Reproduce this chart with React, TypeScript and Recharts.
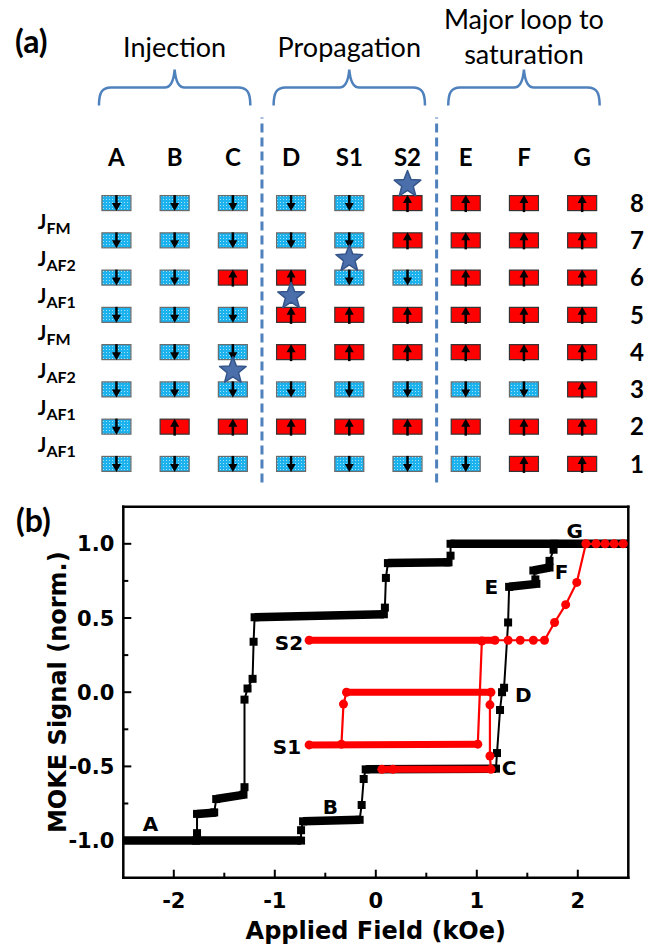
import React from 'react';
import { ScatterChart, Scatter, XAxis, YAxis, ReferenceLine } from 'recharts';

// ---------- (a) layer schematic ----------
const columns = ['A', 'B', 'C', 'D', 'S1', 'S2', 'E', 'F', 'G'];
const layers = [8, 7, 6, 5, 4, 3, 2, 1];
// one string per layer (top to bottom), one letter per state: D = down (blue), U = up (red)
const layerStates = [
    'DDDDDUUUU',
    'DDDDDUUUU',
    'DDUUDDUUU',
    'DDDUUUUUU',
    'DDDUUUUUU',
    'DDDDDDDDU',
    'DUUUUUUUU',
    'DDDDDDDUU',
];
// interlayer coupling between layer 8/7, 7/6 ... 2/1
const couplings = ['FM', 'AF2', 'AF1', 'FM', 'AF2', 'AF1', 'AF1'];
const wallStars = [
    { col: 'S2', between: 8.5 },
    { col: 'S1', between: 6.5 },
    { col: 'D', between: 5.5 },
    { col: 'C', between: 3.5 },
];
const stages = [
    { lines: ['Injection'], from: 'A', to: 'C' },
    { lines: ['Propagation'], from: 'D', to: 'S2' },
    { lines: ['Major loop to', 'saturation'], from: 'E', to: 'G' },
];

// ---------- (b) MOKE loops ----------
const majorField = [-2.5, -0.74, -0.74, -0.72, -0.16, -0.14, -0.12, -0.10, 1.19, 1.20, 1.23, 1.25, 1.27, 1.31, 1.32, 1.59, 1.58, 1.56, 1.72, 1.72, 1.76, 1.77, 2.5,
    0.74, 0.74, 0.72, 0.12, 0.10, 0.09, 0.08, -1.20, -1.21, -1.22, -1.27, -1.30, -1.30, -1.31, -1.58, -1.60, -1.77, -1.77, -1.78, -2.5];
const majorSignal = [-1.0, -1.0, -0.93, -0.87, -0.86, -0.76, -0.585, -0.52, -0.515, -0.41, -0.12, 0.0, 0.03, 0.47, 0.71, 0.73, 0.76, 0.82, 0.84, 0.885, 0.96, 1.0, 1.0,
    1.0, 0.92, 0.875, 0.87, 0.77, 0.57, 0.525, 0.505, 0.34, 0.09, 0.025, -0.05, -0.64, -0.69, -0.72, -0.81, -0.82, -0.95, -1.0, -1.0];
// flat stretches where the dense markers merge into a thick band: [from, to, signal at from, signal at to]
const majorPlateaus = [
    [-2.5, -0.74, -1.0, -1.0],
    [-0.72, -0.16, -0.87, -0.86],
    [-0.10, 1.19, -0.52, -0.515],
    [1.32, 1.59, 0.71, 0.73],
    [1.56, 1.72, 0.82, 0.84],
    [0.74, 2.5, 1.0, 1.0],
    [0.12, 0.74, 0.87, 0.875],
    [-1.20, 0.08, 0.505, 0.525],
    [-1.58, -1.30, -0.72, -0.69],
    [-1.77, -1.58, -0.82, -0.81],
];
const minorField = [0.06, 0.17, 1.14, 1.13, 1.13, 1.14, -0.29, -0.32, -0.34, -0.66, 1.01, 1.05, -0.66, 1.18, 1.31, 1.43, 1.56, 1.67, 1.77, 1.88, 1.99, 2.08, 2.18, 2.27, 2.36, 2.45];
const minorSignal = [-0.52, -0.52, -0.52, -0.43, -0.085, 0.0, 0.0, -0.08, -0.35, -0.355, -0.35, 0.345, 0.35, 0.35, 0.35, 0.35, 0.35, 0.35, 0.47, 0.59, 0.74, 1.0, 1.0, 1.0, 1.0, 1.0];
const minorPlateaus = [
    [-0.66, 1.18, 0.35, 0.35],
    [-0.66, 1.01, -0.355, -0.35],
    [-0.29, 1.14, 0.0, 0.0],
    [0.06, 1.14, -0.52, -0.52],
];
const stateLabels = [
    { text: 'A', x: -2.23, y: -0.89 },
    { text: 'B', x: -0.45, y: -0.77 },
    { text: 'C', x: 1.32, y: -0.51 },
    { text: 'D', x: 1.46, y: -0.015 },
    { text: 'E', x: 1.145, y: 0.707 },
    { text: 'F', x: 1.84, y: 0.81 },
    { text: 'G', x: 1.97, y: 1.09 },
    { text: 'S2', x: -0.86, y: 0.33 },
    { text: 'S1', x: -0.88, y: -0.37 },
];
const fieldTicks = [-2, -1.5, -1, -0.5, 0, 0.5, 1, 1.5, 2];
const signalTicks = [-1, -0.75, -0.5, -0.25, 0, 0.25, 0.5, 0.75, 1];

// ---------- layout ----------
const W = 659;
const A_H = 490;
const A_XDOM = [-2, 9.32];
const A_YDOM = [0.3, 13.45];
const COL_PX = W / (A_XDOM[1] - A_XDOM[0]);
const J_X = -1.35;
const HEAD_ROW = 9.24;
const LAYER_NUM_X = 9.06;
const BRACE_ROW = 11.1;
const SEP_ROWS = [0.5, 10.3];
const B_H = 458;

const CALIBRI = "Lato, 'Open Sans', sans-serif";
const ARIAL = "'DejaVu Sans', sans-serif";
const BLUE = '#4f81bd';

const colIdx = (c: string) => columns.indexOf(c);

const cellData = layers.flatMap((layer, li) =>
    columns.map((_, ci) => ({ x: ci, y: layer, up: layerStates[li][ci] === 'U' }))
);
const headData = columns.map((c, i) => ({ x: i, y: HEAD_ROW, text: c, anchor: 'middle' }));
const layerNumData = layers.map(l => ({ x: LAYER_NUM_X, y: l, text: String(l), anchor: 'end' }));
const couplingData = couplings.map((name, i) => ({ x: J_X, y: layers[i] - 0.5, name }));
const starData = wallStars.map(s => ({ x: colIdx(s.col), y: s.between }));
const stageData = stages.map(s => ({
    x: (colIdx(s.from) + colIdx(s.to)) / 2,
    y: BRACE_ROW,
    span: colIdx(s.to) - colIdx(s.from),
    lines: s.lines,
}));
const separators = stages.slice(1).map((s, i) => (colIdx(stages[i].to) + colIdx(s.from)) / 2);

const majorData = majorField.map((x, i) => ({ x, y: majorSignal[i] }));
const minorData = minorField.map((x, i) => ({ x, y: minorSignal[i] }));
const toSegment = (p: number[]) => [{ x: p[0], y: p[2] }, { x: p[1], y: p[3] }];

// ---------- shapes ----------
const Domain = ({ cx, cy, payload }: any) => {
    const w = 29, h = 15;
    const up = payload.up;
    return (
        <g>
            <rect x={cx - w / 2} y={cy - h / 2} width={w} height={h}
                fill={up ? '#ff0000' : 'url(#spinDots)'} stroke={up ? '#333' : '#6b6b6b'} strokeWidth={1.2} />
            {up ? (
                <g>
                    <line x1={cx} y1={cy + 9} x2={cx} y2={cy - 1} stroke="#000" strokeWidth={2.5} />
                    <polygon points={`${cx - 4.5},${cy} ${cx + 4.5},${cy} ${cx},${cy - 8}`} fill="#000" />
                </g>
            ) : (
                <g>
                    <line x1={cx} y1={cy - 8} x2={cx} y2={cy + 1} stroke="#000" strokeWidth={2.5} />
                    <polygon points={`${cx - 4.5},${cy} ${cx + 4.5},${cy} ${cx},${cy + 8}`} fill="#000" />
                </g>
            )}
        </g>
    );
};

const WallStar = ({ cx, cy }: any) => {
    const pts = Array.from({ length: 10 }, (_, i) => {
        const a = -Math.PI / 2 + (i * Math.PI) / 5;
        const r = i % 2 ? 6 : 14;
        return `${cx + r * Math.cos(a)},${cy + r * Math.sin(a)}`;
    }).join(' ');
    return <polygon points={pts} fill="#4a6fab" stroke="#34558a" strokeWidth={1.5} strokeLinejoin="round" />;
};

const CouplingLabel = ({ cx, cy, payload }: any) => (
    <text x={cx} y={cy + 7} fontFamily={CALIBRI} fontWeight={700} fill="#000">
        <tspan fontSize={20}>J</tspan>
        <tspan fontSize={16} dy={5}>{payload.name}</tspan>
    </text>
);

const GridText = ({ cx, cy, payload }: any) => (
    <text x={cx} y={cy} dy="0.36em" textAnchor={payload.anchor} fontFamily={CALIBRI} fontWeight={700} fontSize={24} fill="#000">
        {payload.text}
    </text>
);

const StageMark = ({ cx, cy, payload }: any) => {
    const half = (payload.span / 2 + 0.3) * COL_PX;
    const d = `M${cx - half},${cy + 18} C${cx - half},${cy + 5} ${cx - half + 3},${cy} ${cx - half + 12},${cy} `
        + `L${cx - 10},${cy} C${cx - 4},${cy} ${cx - 1},${cy - 6} ${cx},${cy - 18} `
        + `C${cx + 1},${cy - 6} ${cx + 4},${cy} ${cx + 10},${cy} L${cx + half - 12},${cy} `
        + `C${cx + half - 3},${cy} ${cx + half},${cy + 5} ${cx + half},${cy + 18}`;
    const base = payload.lines.length === 1 ? [-31] : [-59, -24];
    return (
        <g>
            <path d={d} fill="none" stroke={BLUE} strokeWidth={2.5} />
            {payload.lines.map((t: string, i: number) => (
                <text key={i} x={cx} y={cy + base[i]} textAnchor="middle" fontFamily={CALIBRI} fontSize={27} fill="#000">{t}</text>
            ))}
        </g>
    );
};

const NoShape = () => <g />;

const Square = ({ cx, cy, payload }: any) =>
    Math.abs(payload.x) >= 2.5 ? <g /> : <rect x={cx - 4} y={cy - 4} width={8} height={8} fill="#000" />;

const Dot = ({ cx, cy }: any) => <circle cx={cx} cy={cy} r={4.5} fill="#ff0000" />;

const StateLabel = ({ cx, cy, payload }: any) => (
    <text x={cx} y={cy} dy="0.36em" textAnchor="middle" fontFamily={ARIAL} fontWeight={700} fontSize={20} fill="#000">
        {payload.text}
    </text>
);

const frameTick = (side: 'bottom' | 'top' | 'left' | 'right') => (props: any) => {
    const { x, y, payload } = props;
    const v = payload.value;
    const horizontal = side === 'bottom' || side === 'top';
    const major = horizontal ? Number.isInteger(v) : Math.abs(v * 2 - Math.round(v * 2)) < 1e-9;
    const len = major ? 8 : 5;
    const font = { fontFamily: ARIAL, fontWeight: 700, fontSize: 21, fill: '#000' };
    if (side === 'bottom') {
        return (
            <g>
                <line x1={x} y1={y} x2={x} y2={y - len} stroke="#000" strokeWidth={2} />
                {major && <text x={x} y={y + 30} textAnchor="middle" {...font}>{String(v)}</text>}
            </g>
        );
    }
    if (side === 'top') return <line x1={x} y1={y} x2={x} y2={y + len} stroke="#000" strokeWidth={2} />;
    if (side === 'left') {
        return (
            <g>
                <line x1={x} y1={y} x2={x + len} y2={y} stroke="#000" strokeWidth={2} />
                {major && <text x={x - 9} y={y} dy="0.36em" textAnchor="end" {...font}>{v.toFixed(1)}</text>}
            </g>
        );
    }
    return <line x1={x} y1={y} x2={x - len} y2={y} stroke="#000" strokeWidth={2} />;
};

const frameLine = { stroke: '#000', strokeWidth: 2.5, strokeLinecap: 'square' as const };

export default function App() {
    return (
        <div style={{ position: 'absolute', left: 0, top: 0, width: W, height: 948, background: '#fff' }}>
            <svg width={0} height={0} style={{ position: 'absolute' }}>
                <defs>
                    <pattern id="spinDots" width={3} height={3} patternUnits="userSpaceOnUse">
                        <rect width={3} height={3} fill="#1cb2ee" />
                        <rect x={1} y={1} width={1} height={1} fill="#a6e0f7" />
                    </pattern>
                </defs>
            </svg>

            {/* (a) schematic */}
            <div style={{ position: 'absolute', left: 0, top: 0 }}>
                <ScatterChart width={W} height={A_H} margin={{ top: 0, right: 0, bottom: 0, left: 0 }}>
                    <XAxis type="number" dataKey="x" domain={A_XDOM} hide />
                    <YAxis type="number" dataKey="y" domain={A_YDOM} hide />
                    {separators.map(s => (
                        <ReferenceLine key={s} segment={[{ x: s, y: SEP_ROWS[0] }, { x: s, y: SEP_ROWS[1] }]}
                            stroke={BLUE} strokeWidth={3} strokeDasharray="9 5" />
                    ))}
                    <Scatter data={stageData} shape={StageMark} isAnimationActive={false} />
                    <Scatter data={headData} shape={GridText} isAnimationActive={false} />
                    <Scatter data={layerNumData} shape={GridText} isAnimationActive={false} />
                    <Scatter data={couplingData} shape={CouplingLabel} isAnimationActive={false} />
                    <Scatter data={cellData} shape={Domain} isAnimationActive={false} />
                    <Scatter data={starData} shape={WallStar} isAnimationActive={false} />
                </ScatterChart>
            </div>
            <div style={{ position: 'absolute', left: 15, top: 25, fontFamily: CALIBRI, fontWeight: 700, fontSize: 32, lineHeight: 1 }}>(a)</div>

            {/* (b) MOKE hysteresis */}
            <div style={{ position: 'absolute', left: 0, top: A_H }}>
                <ScatterChart width={W} height={B_H} margin={{ top: 15.7, right: 29.7, bottom: 0, left: 0 }}>
                    <XAxis type="number" dataKey="x" domain={[-2.5, 2.5]} ticks={fieldTicks} interval={0}
                        height={70.3} tickSize={0} tickMargin={0} tickLine={false} axisLine={frameLine}
                        tick={frameTick('bottom')}
                        label={{ value: 'Applied Field (kOe)', position: 'insideBottom', offset: 9, fontFamily: ARIAL, fontWeight: 700, fontSize: 24, fill: '#000' }} />
                    <XAxis xAxisId="top" type="number" dataKey="x" domain={[-2.5, 2.5]} ticks={fieldTicks} interval={0}
                        orientation="top" height={1} tickSize={0} tickMargin={0} tickLine={false} axisLine={frameLine}
                        tick={frameTick('top')} />
                    <YAxis type="number" dataKey="y" domain={[-1.25, 1.25]} ticks={signalTicks} interval={0}
                        width={123.3} tickSize={0} tickMargin={0} tickLine={false} axisLine={frameLine}
                        tick={frameTick('left')}
                        label={{ value: 'MOKE Signal (norm.)', angle: -90, position: 'insideLeft', offset: 57, style: { textAnchor: 'middle' }, fontFamily: ARIAL, fontWeight: 700, fontSize: 24, fill: '#000' }} />
                    <YAxis yAxisId="right" type="number" dataKey="y" domain={[-1.25, 1.25]} ticks={signalTicks} interval={0}
                        orientation="right" width={1} tickSize={0} tickMargin={0} tickLine={false} axisLine={frameLine}
                        tick={frameTick('right')} />

                    {majorPlateaus.map((p, i) => (
                        <Scatter key={`mp${i}`} data={toSegment(p)} shape={NoShape} line={{ stroke: '#000', strokeWidth: 8.5 }} isAnimationActive={false} />
                    ))}
                    <Scatter data={majorData} shape={Square} line={{ stroke: '#000', strokeWidth: 2 }} isAnimationActive={false} />
                    {minorPlateaus.map((p, i) => (
                        <Scatter key={`np${i}`} data={toSegment(p)} shape={NoShape} line={{ stroke: '#ff0000', strokeWidth: 7, strokeLinecap: 'round' }} isAnimationActive={false} />
                    ))}
                    <Scatter data={minorData} shape={Dot} line={{ stroke: '#ff0000', strokeWidth: 2.2 }} isAnimationActive={false} />
                    <Scatter data={stateLabels} shape={StateLabel} isAnimationActive={false} />
                </ScatterChart>
            </div>
            <div style={{ position: 'absolute', left: 16, top: 503.5, fontFamily: CALIBRI, fontWeight: 700, fontSize: 32, lineHeight: 1 }}>(b)</div>
        </div>
    );
}
